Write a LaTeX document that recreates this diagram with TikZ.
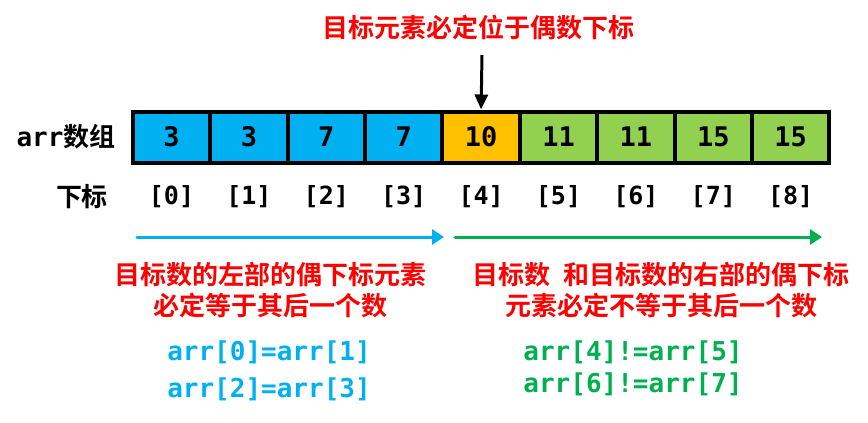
\documentclass[tikz,border=0pt]{standalone}
\usepackage{fontspec}
\setmonofont{DejaVu Sans Mono}
\newfontfamily\cjk{Noto Sans CJK SC}[BoldFont={Noto Sans CJK SC Bold}]
\usetikzlibrary{arrows.meta}

\definecolor{lblue}{HTML}{00B0F0}
\definecolor{lorange}{HTML}{FFC000}
\definecolor{lgreen}{HTML}{92D050}
\definecolor{dgreen}{HTML}{00B050}

\begin{document}
\begin{tikzpicture}[x=1pt,y=-1pt,
    cell/.style={draw,line width=4pt,minimum width=77.4pt,minimum height=51pt,inner sep=0pt,
        font=\fontsize{27}{30}\selectfont\ttfamily\bfseries},
    idx/.style={font=\fontsize{25}{28}\selectfont\ttfamily\bfseries},
    note/.style={text=red,align=center,font=\fontsize{26}{31}\selectfont\cjk\bfseries},
    code/.style={font=\fontsize{26}{30}\selectfont\ttfamily\bfseries}]
    \useasboundingbox (0,0) rectangle (868,423);

    % array cells and their indices
    \foreach \v/\c [count=\i from 0] in {3/lblue, 3/lblue, 7/lblue, 7/lblue, 10/lorange,
        11/lgreen, 11/lgreen, 15/lgreen, 15/lgreen} {
        \node[cell,fill=\c] (cell\i) at (171.5+77.4*\i,137) {\v};
        \node[idx] (idx\i) at (171.5+77.4*\i,197) {[\i]};
    }
    \node[font=\fontsize{26}{30}\selectfont\bfseries] (arrname) at (66,137) {\ttfamily arr\cjk 数组};
    \node[font=\fontsize{26}{30}\selectfont\cjk\bfseries] (idxname) at (82,197) {下标};

    % target marker
    \node[note] (title) at (478,27) {目标元素必定位于偶数下标};
    \coordinate (tip) at (482,55);
    \draw[line width=3pt,-{Triangle[length=15pt,width=13pt]}] (tip) -- (cell4.north);

    % the two ranges
    \coordinate (lstart) at (137,237);
    \coordinate (lend) at (444,237);
    \coordinate (rstart) at (455,237);
    \coordinate (rend) at (822,237);
    \draw[lblue,line width=3pt,line cap=round,-{Triangle[length=12pt,width=15pt]}] (lstart) -- (lend);
    \draw[dgreen,line width=3pt,line cap=round,-{Triangle[length=12pt,width=15pt]}] (rstart) -- (rend);

    \node[note] (leftnote) at (270,290) {目标数的左部的偶下标元素\\必定等于其后一个数};
    \node[note] (rightnote) at (661,290) {目标数\hspace{0.5em}和目标数的右部的偶下标\\元素必定不等于其后一个数};

    \node[code,text=lblue] (lcode1) at (269,352) {arr[0]=arr[1]};
    \node[code,text=lblue] (lcode2) at (269,389) {arr[2]=arr[3]};
    \node[code,text=dgreen] (rcode1) at (633,352) {arr[4]!=arr[5]};
    \node[code,text=dgreen] (rcode2) at (633,384) {arr[6]!=arr[7]};
\end{tikzpicture}
\end{document}
